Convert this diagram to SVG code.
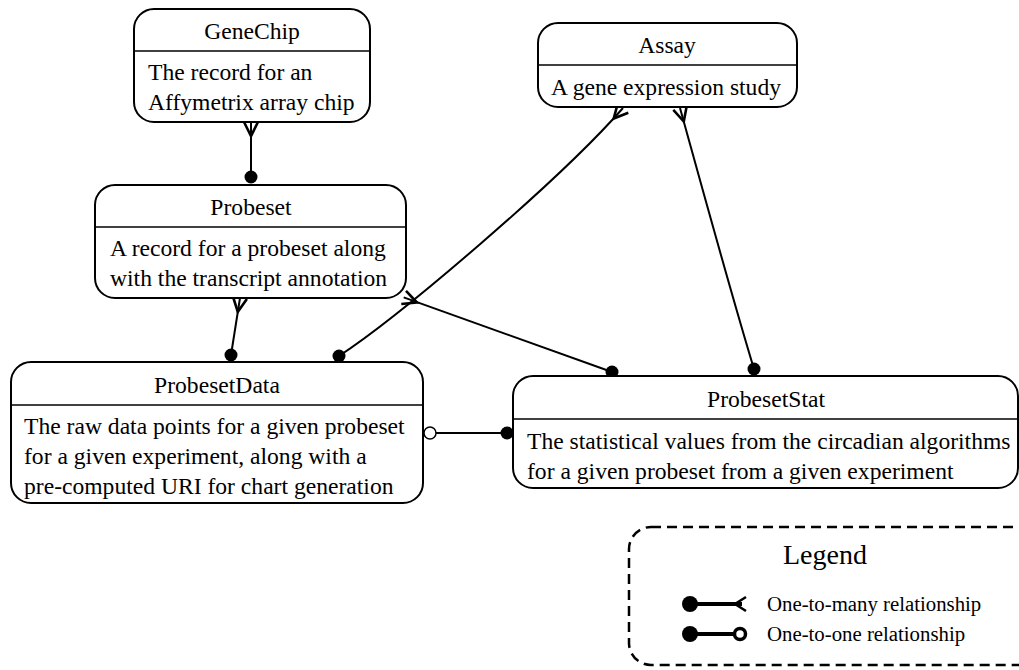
<svg xmlns="http://www.w3.org/2000/svg" width="1019" height="670" viewBox="0 0 1019 670">
<style>
.box{fill:#fff;stroke:#000;stroke-width:2}
.div{stroke:#000;stroke-width:1.5}
.t{font-family:"Liberation Serif","Times New Roman",serif;font-size:23.6px;fill:#000}
.c{text-anchor:middle}
.e{fill:none;stroke:#000;stroke-width:2}
.crow{fill:none;stroke:#000;stroke-width:2.6;stroke-linejoin:miter}
.dot{fill:#000}
.odot{fill:#fff;stroke:#000;stroke-width:1.5}
.lg{font-family:"Liberation Serif","Times New Roman",serif;font-size:20.8px;fill:#000}
</style>
<rect width="1019" height="670" fill="#fff"/>
<g id="edges">
  <!-- GeneChip - Probeset -->
  <path class="e" d="M251 177 L251 122"/>
  <path class="crow" d="M244 122 L251 136 L258 122"/>
  <circle class="dot" cx="251" cy="177" r="6.5"/>
  <!-- Probeset - ProbesetData -->
  <path class="e" d="M231 355 L240 298"/>
  <path class="crow" d="M233.1 297 L237.8 311.8 L246.9 299.1"/>
  <circle class="dot" cx="231" cy="355" r="6.5"/>
  <!-- Assay - ProbesetData -->
  <path class="e" d="M339 356 C400 316 560 180 623 108"/>
  <path class="crow" d="M617.8 103.3 L613.7 118.5 L628.3 112.7"/>
  <circle class="dot" cx="339" cy="356" r="6.5"/>
  <!-- Assay - ProbesetStat -->
  <path class="e" d="M754 369 C730 290 700 180 680 108"/>
  <path class="crow" d="M673.3 109.9 L683.8 121.5 L686.7 106.1"/>
  <circle class="dot" cx="754" cy="369" r="6.5"/>
  <!-- Probeset - ProbesetStat -->
  <path class="e" d="M612 372 L403.7 297.4"/>
  <path class="crow" d="M406 290.8 L417 302.5 L401.3 304"/>
  <circle class="dot" cx="612" cy="372" r="6.5"/>
  <!-- ProbesetData - ProbesetStat -->
  <path class="e" d="M436 433 L501 433"/>
  <circle class="odot" cx="430" cy="433" r="6"/>
  <circle class="dot" cx="507" cy="433" r="6.5"/>
</g>
<g id="GeneChip">
  <rect class="box" x="134" y="9" width="236" height="113" rx="20"/>
  <line class="div" x1="134" y1="51" x2="370" y2="51"/>
  <text class="t c" x="252" y="39">GeneChip</text>
  <text class="t" x="148" y="80">The record for an</text>
  <text class="t" x="148" y="110">Affymetrix array chip</text>
</g>
<g id="Assay">
  <rect class="box" x="538" y="23" width="259" height="84" rx="20"/>
  <line class="div" x1="538" y1="65" x2="797" y2="65"/>
  <text class="t c" x="667" y="53">Assay</text>
  <text class="t" x="551" y="95">A gene expression study</text>
</g>
<g id="Probeset">
  <rect class="box" x="95" y="185" width="311" height="113" rx="20"/>
  <line class="div" x1="95" y1="227" x2="406" y2="227"/>
  <text class="t c" x="251" y="215">Probeset</text>
  <text class="t" x="110" y="256">A record for a probeset along</text>
  <text class="t" x="110" y="286">with the transcript annotation</text>
</g>
<g id="ProbesetData">
  <rect class="box" x="11" y="362" width="412" height="141" rx="20"/>
  <line class="div" x1="11" y1="405" x2="423" y2="405"/>
  <text class="t c" x="217" y="393">ProbesetData</text>
  <text class="t" x="24" y="434">The raw data points for a given probeset</text>
  <text class="t" x="24" y="464">for a given experiment, along with a</text>
  <text class="t" x="24" y="494">pre-computed URI for chart generation</text>
</g>
<g id="ProbesetStat">
  <rect class="box" x="513" y="376" width="505" height="112" rx="20"/>
  <line class="div" x1="513" y1="419" x2="1018" y2="419"/>
  <text class="t c" x="766" y="407">ProbesetStat</text>
  <text class="t" x="527" y="449">The statistical values from the circadian algorithms</text>
  <text class="t" x="527" y="479">for a given probeset from a given experiment</text>
</g>
<g id="Legend">
  <rect x="629" y="527" width="420" height="138" rx="22" fill="none" stroke="#000" stroke-width="2.5" stroke-dasharray="10,6"/>
  <text class="t c" x="825" y="564" style="font-size:28px">Legend</text>
  <line x1="690" y1="604" x2="742" y2="604" stroke="#000" stroke-width="4"/>
  <circle cx="690" cy="604" r="8" fill="#000"/>
  <path d="M746 597 L735 604 L746 611" fill="none" stroke="#000" stroke-width="2.5"/>
  <text class="lg" x="767" y="611">One-to-many relationship</text>
  <line x1="690" y1="634" x2="734" y2="634" stroke="#000" stroke-width="4"/>
  <circle cx="690" cy="634" r="8" fill="#000"/>
  <circle cx="740" cy="634" r="5.5" fill="#fff" stroke="#000" stroke-width="3.5"/>
  <text class="lg" x="767" y="641">One-to-one relationship</text>
</g>
</svg>
